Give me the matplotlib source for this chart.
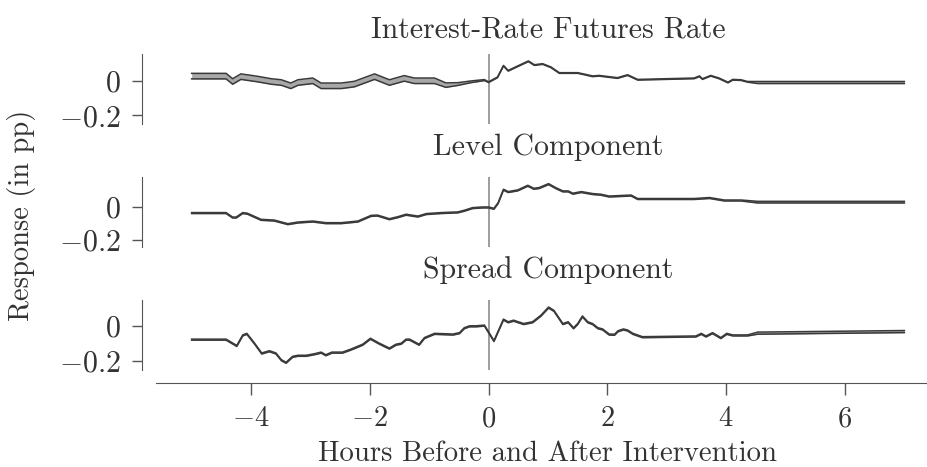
import numpy as np
import matplotlib as mpl
mpl.use("Agg")
import matplotlib.pyplot as plt

# Interest-rate futures rate (point estimate and half-width of the band)
t_fut = [-5.0, -4.42, -4.31, -4.17, -3.89, -3.66, -3.49, -3.33, -3.21, -2.96,
         -2.82, -2.48, -2.26, -1.92, -1.67, -1.42, -1.25, -0.91, -0.72, -0.52,
         -0.30, -0.07, 0.0, 0.15, 0.25, 0.33, 0.49, 0.67, 0.77, 0.91,
         1.05, 1.19, 1.50, 1.61, 1.75, 1.86, 2.17, 2.34, 2.51, 3.46,
         3.55, 3.60, 3.74, 3.88, 4.03, 4.11, 4.25, 4.36, 4.53, 7.0]
fut = [0.027, 0.027, -0.004, 0.024, 0.01, -0.004, -0.01, -0.029, -0.01, 0.0,
       -0.029, -0.029, -0.019, 0.024, -0.01, 0.014, 0.0, 0.0, -0.025, -0.019,
       -0.006, 0.004, -0.008, 0.02, 0.087, 0.058, 0.084, 0.113, 0.091, 0.097,
       0.078, 0.045, 0.045, 0.037, 0.026, 0.029, 0.016, 0.033, 0.006, 0.014,
       0.026, 0.01, 0.029, 0.014, -0.01, 0.006, 0.004, -0.006, -0.01, -0.01]
fut_hw = [0.016] * 18 + [0.013, 0.008, 0.005, 0.003] + [0.002] * 26 + [0.006] * 2

# Level component
t_lev = [-5.0, -4.42, -4.31, -4.25, -4.14, -4.06, -3.83, -3.61, -3.38, -3.21,
         -2.96, -2.74, -2.48, -2.20, -1.98, -1.87, -1.67, -1.53, -1.39, -1.19,
         -1.05, -0.80, -0.52, -0.41, -0.27, -0.10, 0.0, 0.09, 0.16, 0.25,
         0.33, 0.49, 0.66, 0.76, 0.85, 1.01, 1.13, 1.25, 1.34, 1.42,
         1.56, 1.75, 1.89, 2.03, 2.40, 2.51, 3.46, 3.72, 3.97, 4.25, 4.53, 7.0]
lev = [-0.038, -0.038, -0.065, -0.065, -0.038, -0.042, -0.079, -0.083, -0.105, -0.095,
       -0.089, -0.099, -0.099, -0.089, -0.055, -0.053, -0.075, -0.063, -0.048, -0.059,
       -0.044, -0.038, -0.034, -0.024, -0.008, -0.004, -0.004, -0.012, 0.022, 0.103,
       0.089, 0.099, 0.127, 0.109, 0.113, 0.137, 0.113, 0.093, 0.093, 0.079,
       0.089, 0.077, 0.073, 0.062, 0.068, 0.047, 0.047, 0.053, 0.038, 0.038, 0.028, 0.028]
lev_hw = [0.003] * 50 + [0.005] * 2

# Spread component
t_spr = [-5.0, -4.42, -4.24, -4.14, -4.07, -3.94, -3.82, -3.69, -3.58, -3.49,
         -3.41, -3.30, -3.21, -3.07, -2.93, -2.82, -2.74, -2.64, -2.46, -2.32,
         -2.12, -1.99, -1.84, -1.67, -1.56, -1.47, -1.39, -1.33, -1.17, -1.08,
         -0.91, -0.60, -0.49, -0.41, -0.32, -0.21, -0.07, 0.09, 0.25, 0.33,
         0.42, 0.59, 0.74, 0.88, 1.01, 1.10, 1.25, 1.34, 1.43, 1.50,
         1.58, 1.67, 1.75, 1.84, 1.92, 2.03, 2.12, 2.18, 2.27, 2.34,
         2.43, 2.59, 3.49, 3.58, 3.66, 3.77, 3.91, 4.01, 4.11, 4.36, 4.53, 7.0]
spr = [-0.080, -0.080, -0.116, -0.056, -0.047, -0.103, -0.159, -0.146, -0.159, -0.197,
       -0.212, -0.178, -0.172, -0.172, -0.163, -0.154, -0.169, -0.154, -0.154, -0.137,
       -0.109, -0.075, -0.103, -0.131, -0.109, -0.103, -0.080, -0.080, -0.109, -0.071,
       -0.047, -0.051, -0.043, -0.015, -0.004, -0.004, 0.0, -0.088, 0.034, 0.019,
       0.028, 0.009, 0.019, 0.056, 0.103, 0.084, 0.009, 0.019, -0.015, 0.009,
       0.052, 0.019, 0.009, -0.015, -0.022, -0.051, -0.052, -0.032, -0.022, -0.028,
       -0.047, -0.066, -0.062, -0.047, -0.062, -0.043, -0.071, -0.047, -0.056, -0.056,
       -0.043, -0.034]
spr_hw = [0.003] * 70 + [0.006] * 2

titles = ["Interest-Rate Futures Rate", "Level Component", "Spread Component"]
y_ticks = [-0.2, 0]
y_ticklabels = [r"$-0.2$", r"$0$"]
x_ticks = [-4, -2, 0, 2, 4, 6]
x_ticklabels = [r"$-4$", r"$-2$", r"$0$", r"$2$", r"$4$", r"$6$"]

TEXT = "#333333"
LINE = "#3a3a3a"
FS_TICK = 20.5
FS_TEXT = 21.5

mpl.rcParams.update({
    "font.family": "serif",
    "font.serif": ["cmr10"],
    "mathtext.fontset": "cm",
    "font.size": FS_TEXT,
    "text.color": TEXT,
    "axes.labelcolor": TEXT,
    "xtick.color": "#555555",
    "ytick.color": "#555555",
    "xtick.labelcolor": TEXT,
    "ytick.labelcolor": TEXT,
})

fig = plt.figure(figsize=(9.28, 4.67), dpi=100)
W, H = 928.0, 467.0

# axes boxes in pixels: (top, bottom)
boxes = [(54, 124), (177, 247), (300, 370)]
ylims = [(-0.25, 0.155), (-0.243, 0.18), (-0.253, 0.146)]
title_pads = [12, 16, 16]
series = [(t_fut, fut, fut_hw), (t_lev, lev, lev_hw), (t_spr, spr, spr_hw)]

axes = []
for (top, bot), yl, tp, (t, v, hw), title in zip(boxes, ylims, title_pads, series, titles):
    ax = fig.add_axes([156 / W, (H - bot) / H, (940 - 156) / W, (bot - top) / H])
    t = np.asarray(t)
    v = np.asarray(v)
    hw = np.asarray(hw)
    ax.fill_between(t, v - hw, v + hw, color="#a8a8a8", lw=0, zorder=2)
    ax.plot(t, v - hw, color=LINE, lw=1.1, zorder=3)
    ax.plot(t, v + hw, color=LINE, lw=1.1, zorder=3)
    ax.axvline(0, color="#8c8c8c", lw=1.2, zorder=1)
    ax.set_xlim(-5.6, 7.6)
    ax.set_ylim(*yl)
    ax.set_yticks(y_ticks)
    ax.set_yticklabels(y_ticklabels, fontsize=FS_TICK)
    ax.set_title(title, fontsize=FS_TEXT, pad=tp, color=TEXT)
    for s in ["top", "right"]:
        ax.spines[s].set_visible(False)
    ax.spines["left"].set_position(("outward", 10.3))
    ax.spines["left"].set_color("#555555")
    ax.spines["bottom"].set_color("#555555")
    ax.tick_params(axis="y", length=7.2, width=1, pad=8)
    axes.append(ax)

for ax in axes[:2]:
    ax.spines["bottom"].set_visible(False)
    ax.set_xticks([])

ax3 = axes[2]
ax3.spines["bottom"].set_position(("outward", 9.1))
ax3.set_xticks(x_ticks)
ax3.set_xticklabels(x_ticklabels, fontsize=FS_TICK)
ax3.tick_params(axis="x", length=8.6, width=1, pad=8)
ax3.set_xlabel("Hours Before and After Intervention", fontsize=20.7, labelpad=6)

fig.text(22 / W, (H - 215) / H, "Response (in pp)", rotation=90,
         ha="center", va="center", fontsize=20.5, color=TEXT)

fig.savefig("out.png", dpi=100)
